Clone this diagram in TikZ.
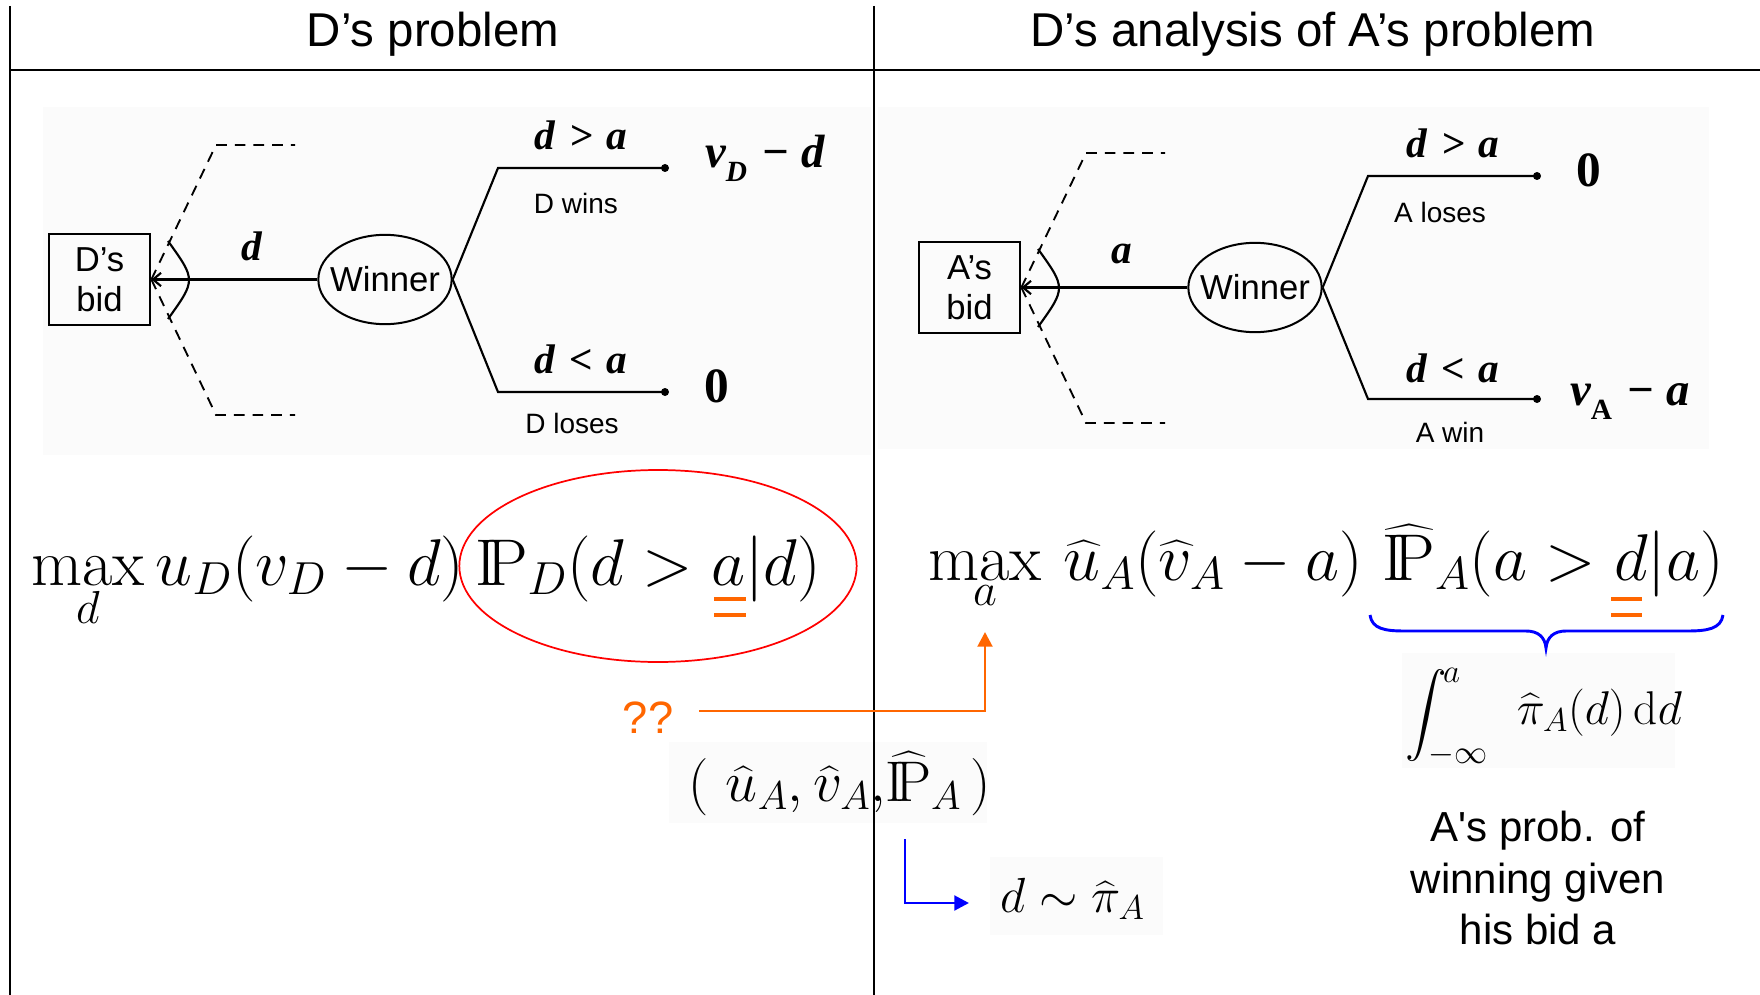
\RequirePackage{fix-cm}
\documentclass[tikz,border=0pt]{standalone}
\usepackage{amsmath}
\usepackage{graphicx}
\usepackage{fontspec}
\newfontfamily\arial{Liberation Sans}
\newfontfamily\tms{Liberation Serif}
\usetikzlibrary{shapes.geometric,arrows.meta}
\definecolor{orng}{HTML}{FF6600}
\definecolor{faint}{HTML}{FBFBFB}
\newcommand{\fsz}[2]{\fontsize{#1}{#2}\selectfont}
\newcommand{\bbP}{\mathrm{I\!P}}
\newcommand{\bigint}{\mathop{\raisebox{-5pt}{\scalebox{1.25}{$\displaystyle\int$}}}\nolimits}
\tikzset{
  frame/.style={line width=1.5pt},
  title/.style={font=\arial\fsz{35.6}{40}, anchor=base, inner sep=0},
  bidbox/.style={draw, line width=1.8pt, minimum width=76pt, minimum height=68pt, align=center, font=\arial\fsz{26}{30}, inner sep=0},
  winner/.style={ellipse, draw, line width=1.5pt, minimum width=100pt, minimum height=67pt, inner sep=0, font=\arial\fsz{26}{30}},
  branch/.style={line width=1.6pt},
  dashbr/.style={line width=1.4pt, dash pattern=on 8pt off 6pt},
  tlab/.style={font=\tms\bfseries\itshape\fsz{31}{33}, anchor=base, inner sep=0},
  slab/.style={font=\arial\fsz{21}{24}, anchor=base, inner sep=0},
  leaf/.style={circle, fill, inner sep=0, minimum size=6pt},
  bidtip/.style={-{Straight Barb[length=6pt,width=10pt]}},
  fml/.style={anchor=base west, inner sep=0},
  arr/.style={line width=2.2pt, -{Triangle[length=11pt,width=11pt]}}
}
\begin{document}
\begin{tikzpicture}[x=0.75pt,y=-0.75pt]
\fill[white] (0,0) rectangle (1760,995);
\useasboundingbox (0,0) rectangle (1760,995);
% faint backgrounds of pasted pictures
\fill[faint] (43,107) rectangle (871,455);
\fill[faint] (878,107) rectangle (1709,449);
\fill[faint] (669,742) rectangle (987,823);
\fill[faint] (990,857) rectangle (1163,935);
\fill[faint] (1402,653) rectangle (1675,768);
% frame
\draw[frame] (10,6) -- (10,995);
\draw[frame] (874,6) -- (874,995);
\draw[frame] (10,70) -- (1760,70);
\node[title] (t1) at (433,47) {D’s problem};
\node[title] (t2) at (1313,47) {D’s analysis of A’s problem};

% ---------- left tree ----------
\node[bidbox] (b1) at (99.5,279.5) {D’s\\bid};
\node[winner] (w1) at (385,279.5) {\makebox[0pt]{Winner}};
\draw[branch, bidtip] (w1.west) -- (b1.east);
\draw[branch] (168,241) .. controls (196,280) .. (168,319);
\coordinate (du1) at (216,145); \coordinate (de1) at (295,145);
\coordinate (dd1) at (216,415); \coordinate (df1) at (295,415);
\draw[dashbr] (b1.east) -- (du1) -- (de1);
\draw[dashbr] (b1.east) -- (dd1) -- (df1);
\coordinate (ku1) at (498,168); \coordinate (kd1) at (498,392);
\node[leaf] (lu1) at (665,168) {};
\node[leaf] (ld1) at (665,392) {};
\draw[branch] (w1.east) -- (ku1) -- (lu1.center);
\draw[branch] (w1.east) -- (kd1) -- (ld1.center);
\node[tlab] (ld) at (252,260) {d};
\node[tlab] (gt1) at (581,150) {d\hspace{0.33em}>\hspace{0.33em}a};
\node[slab] (dw) at (576,214) {D wins};
\node[tlab, anchor=base west, font=\tms\bfseries\itshape\fsz{35}{37}] (vd) at (705,168) {v\raisebox{-0.3em}{\fsz{22}{24}D}\hspace{0.3em}−\hspace{0.25em}d};
\node[tlab] (lt1) at (581,373) {d\hspace{0.33em}<\hspace{0.33em}a};
\node[tlab, anchor=base west, font=\tms\bfseries\fsz{37}{39}] (z1) at (704,402) {0};
\node[slab] (dl) at (572,433) {D loses};

% ---------- right tree ----------
\begin{scope}[shift={(870,8)}]
\node[bidbox] (b2) at (99.5,279.5) {A’s\\bid};
\node[winner] (w2) at (385,279.5) {\makebox[0pt]{Winner}};
\draw[branch, bidtip] (w2.west) -- (b2.east);
\draw[branch] (168,241) .. controls (196,280) .. (168,319);
\coordinate (du2) at (216,145); \coordinate (de2) at (295,145);
\coordinate (dd2) at (216,415); \coordinate (df2) at (295,415);
\draw[dashbr] (b2.east) -- (du2) -- (de2);
\draw[dashbr] (b2.east) -- (dd2) -- (df2);
\coordinate (ku2) at (498,168); \coordinate (kd2) at (498,391);
\node[leaf] (lu2) at (667,168) {};
\node[leaf] (ld2) at (667,391) {};
\draw[branch] (w2.east) -- (ku2) -- (lu2.center);
\draw[branch] (w2.east) -- (kd2) -- (ld2.center);
\node[tlab] (la) at (252,255) {a};
\node[tlab] (gt2) at (583,150) {d\hspace{0.33em}>\hspace{0.33em}a};
\node[slab] (al) at (570,215) {A loses};
\node[tlab, anchor=base west, font=\tms\bfseries\fsz{37}{39}] (z2) at (706,179) {0};
\node[tlab] (lt2) at (583,374) {d\hspace{0.33em}<\hspace{0.33em}a};
\node[tlab, anchor=base west, font=\tms\bfseries\itshape\fsz{35}{37}] (va) at (700,397) {v\raisebox{-0.3em}{\fsz{22}{24}\upshape A}\hspace{0.3em}−\hspace{0.25em}a};
\node[slab] (aw) at (580,434) {A win};
\end{scope}

% ---------- formulas ----------
\node[fml, font=\fsz{49.6}{53}] (fD) at (31,585)
  {$\displaystyle\max_d u_D(v_D-d)\,\bbP_D(d>a|d)$};
\node[draw=red, ellipse, line width=1.3pt, minimum width=298pt, minimum height=144pt, inner sep=0] (red) at (658,566) {};
\draw[orng, line width=3.5pt] (714,599) -- (746,599) (714,615) -- (746,615);

\node[fml, font=\fsz{49.6}{53}] (fA) at (928,580)
  {$\displaystyle\max_a\,\widehat{u}_A(\widehat{v}_A-a)\ \widehat{\bbP}_A(a>d|a)$};
\draw[orng, line width=3.5pt] (1611,599) -- (1642,599) (1611,615) -- (1642,615);
\draw[blue, line width=2.2pt] (1370,615) .. controls (1372,629) and (1385,631) .. (1405,631) -- (1526,631)
  .. controls (1538,631) and (1545,637) .. (1546,648) .. controls (1547,637) and (1554,631) .. (1566,631)
  -- (1687,631) .. controls (1707,631) and (1721,629) .. (1723,615);

\node[fml, font=\fsz{35.5}{38}] (intg) at (1405,724)
  {$\displaystyle\bigint_{\mkern-10mu-\infty}^{\mkern-2mu a}\;\,\widehat{\pi}_A(d)\,\mathrm{d}d$};
\node[font=\arial\fsz{31.5}{38.6}, align=center, inner sep=0] (expl) at (1538,878)
  {A\textquotesingle s prob. of\\winning given\\his bid a};

\node[font=\arial\fsz{34}{38}, text=orng, inner sep=0] (qq) at (648,718) {??};
\coordinate (otip) at (985,632);
\draw[orng, arr] ([shift={(26,-7)}]qq.east) -| (otip);

\node[fml, font=\fsz{43}{46}] (tup) at (688,801)
  {$(\ \widehat{u}_A,\widehat{v}_A,\!\widehat{\bbP}_A\,)$};
\node[fml, font=\fsz{37}{40}] (dpi) at (1000,912) {$d\sim\widehat{\pi}_A$};
\coordinate (bst) at (905,839);
\coordinate (bend) at (969,903);
\draw[blue, arr] (bst) |- (bend);
\end{tikzpicture}
\end{document}
